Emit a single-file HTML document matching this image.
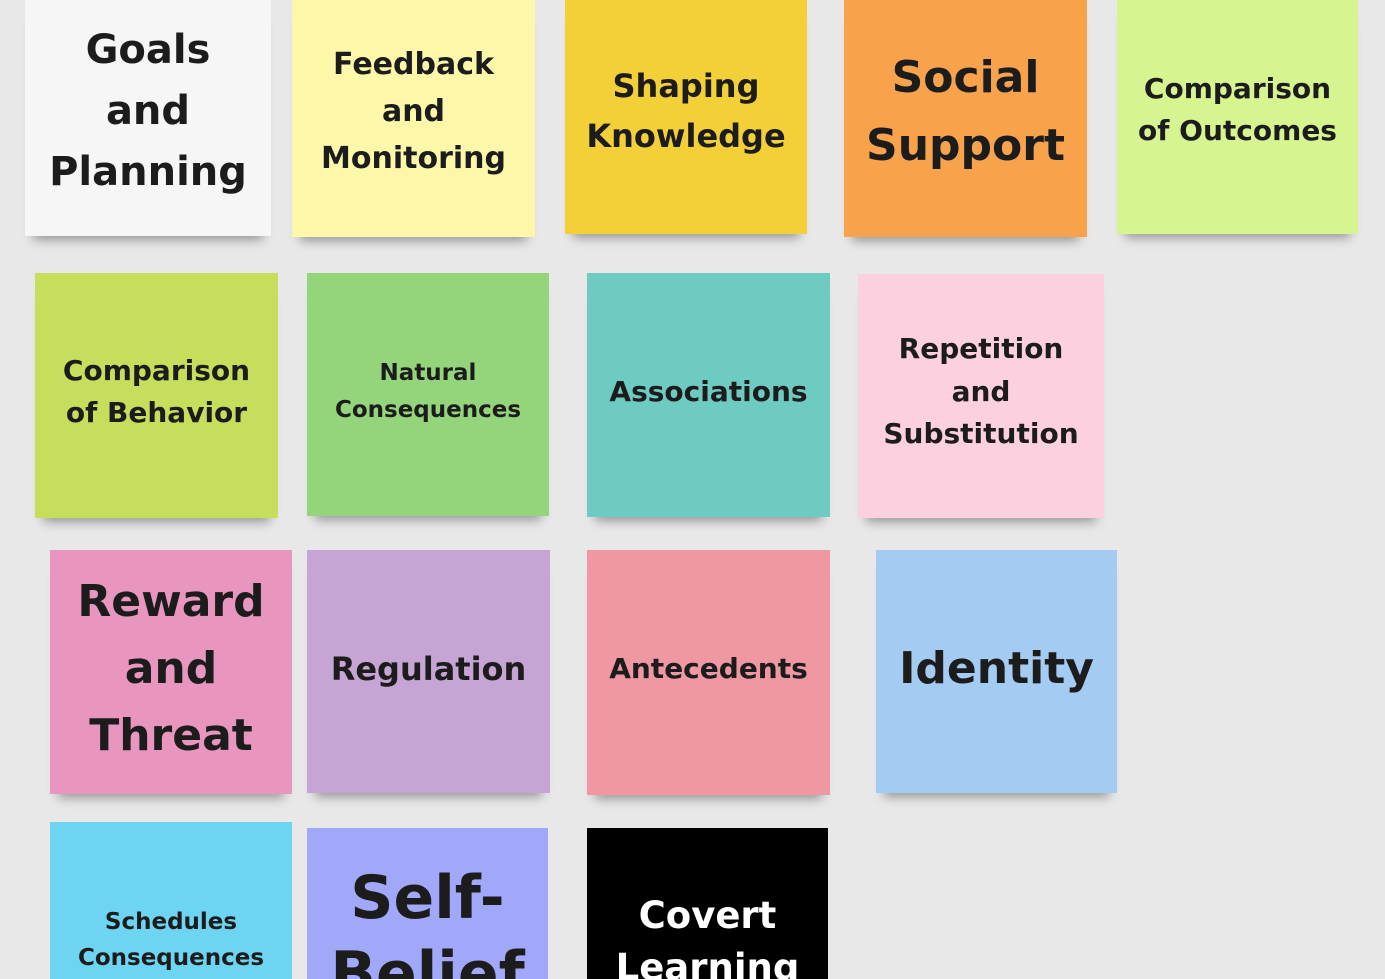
<!DOCTYPE html>
<html style="overflow:hidden;height:979px"><head><meta charset="utf-8"><style>
html,body{overflow:hidden}
body{margin:0;width:1385px;height:979px;background:#e8e8e8;position:relative;font-family:"DejaVu Sans","Liberation Sans",sans-serif;font-weight:bold;color:#1c1c1c}
.n{position:absolute;box-shadow:0 12px 10px -8px rgba(0,0,0,.35);overflow:hidden}
.b{box-shadow:none}
.t{position:absolute;left:0;right:0;text-align:center;white-space:nowrap}
</style></head><body>

<div class="n" style="left:25px;top:0;width:246px;height:236px;background:#f6f6f6"><div class="t" style="top:20px;font-size:40px;line-height:61px">Goals<br>and<br>Planning</div></div>
<div class="n" style="left:292px;top:0;width:243px;height:237px;background:#fdf7a9"><div class="t" style="top:41px;font-size:30px;line-height:47px">Feedback<br>and<br>Monitoring</div></div>
<div class="n" style="left:565px;top:0;width:242px;height:234px;background:#f3cf38"><div class="t" style="top:61px;font-size:32px;line-height:50px">Shaping<br>Knowledge</div></div>
<div class="n" style="left:844px;top:0;width:243px;height:237px;background:#f9a24c"><div class="t" style="top:44px;font-size:44px;line-height:68px">Social<br>Support</div></div>
<div class="n" style="left:1117px;top:0;width:241px;height:234px;background:#d6f590"><div class="t" style="top:68px;font-size:28px;line-height:42px">Comparison<br>of Outcomes</div></div>

<div class="n" style="left:35px;top:273px;width:243px;height:245px;background:#c6de5b"><div class="t" style="top:77px;font-size:28px;line-height:42px">Comparison<br>of Behavior</div></div>
<div class="n" style="left:307px;top:273px;width:242px;height:243px;background:#94d47b"><div class="t" style="top:82px;font-size:23px;line-height:37px">Natural<br>Consequences</div></div>
<div class="n" style="left:587px;top:273px;width:243px;height:244px;background:#6dcbc1"><div class="t" style="top:98px;font-size:28px;line-height:42px">Associations</div></div>
<div class="n" style="left:858px;top:274px;width:246px;height:244px;background:#fdd0e0"><div class="t" style="top:54px;font-size:28px;line-height:42.5px">Repetition<br>and<br>Substitution</div></div>

<div class="n" style="left:50px;top:550px;width:242px;height:244px;background:#e896be"><div class="t" style="top:18px;font-size:44px;line-height:67px">Reward<br>and<br>Threat</div></div>
<div class="n" style="left:307px;top:550px;width:243px;height:243px;background:#c6a4d4"><div class="t" style="top:94px;font-size:32px;line-height:50px">Regulation</div></div>
<div class="n" style="left:587px;top:550px;width:243px;height:245px;background:#ef98a1"><div class="t" style="top:98px;font-size:28px;line-height:42px">Antecedents</div></div>
<div class="n" style="left:876px;top:550px;width:241px;height:243px;background:#a4cbf2"><div class="t" style="top:84px;font-size:44px;line-height:70px">Identity</div></div>

<div class="n b" style="left:50px;top:822px;width:242px;height:157px;background:#6dd5f2"><div class="t" style="top:82px;font-size:23px;line-height:36px">Schedules<br>Consequences</div></div>
<div class="n b" style="left:307px;top:828px;width:241px;height:151px;background:#a1a8fa"><div class="t" style="top:32px;font-size:60px;line-height:76px">Self-<br>Belief</div></div>
<div class="n b" style="left:587px;top:828px;width:241px;height:151px;background:#000;color:#fff"><div class="t" style="top:62px;font-size:37px;line-height:52px">Covert<br>Learning</div></div>

</body></html>
